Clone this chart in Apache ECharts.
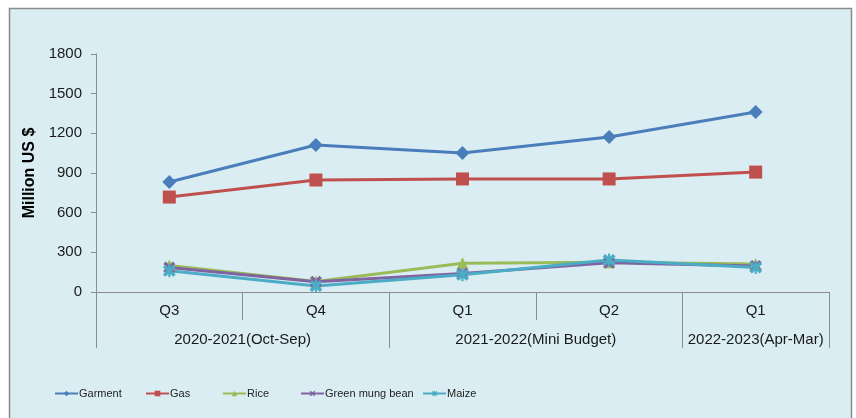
<!DOCTYPE html>
<html>
<head>
<meta charset="utf-8">
<script src="https://cdn.jsdelivr.net/npm/echarts@6/dist/echarts.min.js"></script>
<style>
  html, body { margin: 0; padding: 0; background: #ffffff; }
  #chart { width: 856px; height: 418px; }
</style>
</head>
<body>
<div id="chart"></div>
<script>
// Quarterly export values, million US $
const quarters = ['Q3', 'Q4', 'Q1', 'Q2', 'Q1'];
const fiscalYears = ['2020-2021(Oct-Sep)', '2021-2022(Mini Budget)', '2022-2023(Apr-Mar)'];
const garment = [832, 1112, 1051, 1172, 1361];
const gas = [718, 847, 855, 855, 907];
const rice = [200, 80, 217, 225, 212];
const greenMungBean = [185, 78, 140, 222, 197];
const maize = [160, 45, 130, 242, 185];
const yTicks = [0, 300, 600, 900, 1200, 1500, 1800];

// fiscal-year spans in category units: [start, end]
const yearSpans = [[0, 2], [2, 4], [4, 5]];

const FONT = '"Liberation Sans", Arial, sans-serif';
const AXIS_GREY = '#8c8c8c';

const xSymbol = 'path://M0,2 L2,0 L5,3 L8,0 L10,2 L7,5 L10,8 L8,10 L5,7 L2,10 L0,8 L3,5 Z';
const starSymbol = 'path://M0,2 L2,0 L5,3 L8,0 L10,2 L7,5 L10,8 L8,10 L5,7 L2,10 L0,8 L3,5 Z M4.2,-0.5 L5.8,-0.5 L5.8,10.5 L4.2,10.5 Z';

const seriesDefs = [
  { name: 'Garment', data: garment, color: '#4a7ebb', symbol: 'diamond', size: 14 },
  { name: 'Gas', data: gas, color: '#c0504d', symbol: 'rect', size: 13 },
  { name: 'Rice', data: rice, color: '#9bbb59', symbol: 'triangle', size: 12 },
  { name: 'Green mung bean', data: greenMungBean, color: '#8064a2', symbol: xSymbol, size: 12 },
  { name: 'Maize', data: maize, color: '#4bacc6', symbol: starSymbol, size: 13 }
];

const legendLefts = [54, 145, 222, 300, 422];

const chart = echarts.init(document.getElementById('chart'), null, { renderer: 'canvas' });

const boundaries = [];
yearSpans.forEach(s => { if (!boundaries.includes(s[0])) boundaries.push(s[0]); boundaries.push(s[1]); });
const centers = yearSpans.map(s => (s[0] + s[1]) / 2);

chart.setOption({
  backgroundColor: '#ffffff',
  animation: false,
  graphic: [{
    type: 'rect',
    z: -10,
    shape: { x: 9.5, y: 8.5, width: 842, height: 420 },
    style: { fill: '#daedf3', stroke: '#8a8a8a', lineWidth: 1.5 }
  }],
  grid: { left: 96, right: 27, top: 54, bottom: 126 },
  legend: seriesDefs.map((s, i) => ({
    data: [s.name],
    left: legendLefts[i],
    top: 388,
    itemWidth: 23,
    itemHeight: 7,
    itemGap: 0,
    padding: 0,
    textStyle: { fontFamily: FONT, fontSize: 11, color: '#222', padding: [0, 0, 0, -4] }
  })),
  xAxis: [{
    type: 'category',
    data: quarters,
    boundaryGap: true,
    axisLine: { lineStyle: { color: AXIS_GREY, width: 1 } },
    axisTick: { show: true, interval: 0, length: 28, lineStyle: { color: AXIS_GREY } },
    axisLabel: { interval: 0, margin: 11, fontFamily: FONT, fontSize: 15, color: '#1a1a1a' },
    splitLine: { show: false }
  }, {
    type: 'value',
    position: 'bottom',
    offset: 28,
    min: 0,
    max: quarters.length,
    axisLine: { show: false },
    axisTick: { show: true, length: 28, customValues: boundaries, lineStyle: { color: AXIS_GREY } },
    axisLabel: {
      margin: 12,
      customValues: centers,
      fontFamily: FONT, fontSize: 15, color: '#1a1a1a',
      formatter: v => fiscalYears[centers.indexOf(v)] || ''
    },
    splitLine: { show: false }
  }],
  yAxis: {
    type: 'value',
    min: yTicks[0],
    max: yTicks[yTicks.length - 1],
    interval: yTicks[1] - yTicks[0],
    name: 'Million US $',
    nameLocation: 'middle',
    nameGap: 55,
    nameTextStyle: { fontFamily: FONT, fontSize: 16, fontWeight: 'bold', color: '#000' },
    axisLine: { show: true, lineStyle: { color: AXIS_GREY } },
    axisTick: { show: true, length: 5, lineStyle: { color: AXIS_GREY } },
    axisLabel: { margin: 14, fontFamily: FONT, fontSize: 15, color: '#1a1a1a', formatter: v => String(v) },
    splitLine: { show: false }
  },
  series: seriesDefs.map(s => ({
    name: s.name,
    type: 'line',
    data: s.data,
    xAxisIndex: 0,
    symbol: s.symbol,
    symbolSize: s.size,
    showAllSymbol: true,
    itemStyle: { color: s.color, borderWidth: 0 },
    lineStyle: { color: s.color, width: 3 },
    emphasis: { disabled: true }
  }))
});
</script>
</body>
</html>
